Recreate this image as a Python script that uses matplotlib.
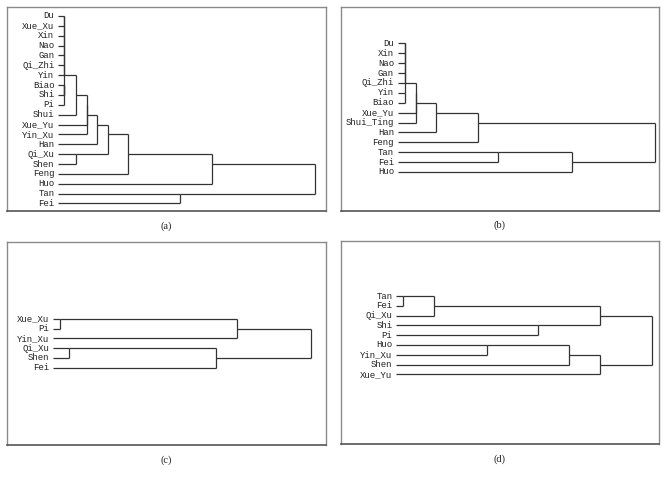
import math

import matplotlib
matplotlib.use('Agg')
import matplotlib.pyplot as plt


# leaf order (top to bottom) and merges (left, right, rescaled distance 0-25)
# an int in a merge refers to the result of that earlier merge step
leaves_a = ['Du', 'Xue_Xu', 'Xin', 'Nao', 'Gan', 'Qi_Zhi', 'Yin', 'Biao', 'Shi', 'Pi',
            'Shui', 'Xue_Yu', 'Yin_Xu', 'Han', 'Qi_Xu', 'Shen', 'Feng', 'Huo', 'Tan', 'Fei']
merges_a = [('Du', 'Xue_Xu', 0.58), (0, 'Xin', 0.58), (1, 'Nao', 0.58), (2, 'Gan', 0.58),
            (3, 'Qi_Zhi', 0.58), (4, 'Yin', 0.58), ('Biao', 'Shi', 0.58), (6, 'Pi', 0.58),
            (5, 7, 0.58), (8, 'Shui', 1.8), (9, 'Xue_Yu', 2.85), (10, 'Yin_Xu', 2.85),
            (11, 'Han', 3.8), ('Qi_Xu', 'Shen', 1.75), (12, 13, 4.9), (14, 'Feng', 6.85),
            (15, 'Huo', 14.95), ('Tan', 'Fei', 11.9), (16, 17, 25.0)]

leaves_b = ['Du', 'Xin', 'Nao', 'Gan', 'Qi_Zhi', 'Yin', 'Biao', 'Xue_Yu', 'Shui_Ting',
            'Han', 'Feng', 'Tan', 'Fei', 'Huo']
merges_b = [('Du', 'Xin', 0.71), (0, 'Nao', 0.71), (1, 'Gan', 0.71), (2, 'Qi_Zhi', 0.71),
            ('Yin', 'Biao', 0.71), (3, 4, 0.71), (5, 'Xue_Yu', 1.75), (6, 'Shui_Ting', 1.75),
            (7, 'Han', 3.72), (8, 'Feng', 7.83), ('Tan', 'Fei', 9.78), (10, 'Huo', 16.9),
            (9, 11, 25.0)]

leaves_c = ['Xue_Xu', 'Pi', 'Yin_Xu', 'Qi_Xu', 'Shen', 'Fei']
merges_c = [('Xue_Xu', 'Pi', 0.71), (0, 'Yin_Xu', 17.83), ('Qi_Xu', 'Shen', 1.61),
            (2, 'Fei', 15.84), (1, 3, 25.0)]

leaves_d = ['Tan', 'Fei', 'Qi_Xu', 'Shi', 'Pi', 'Huo', 'Yin_Xu', 'Shen', 'Xue_Yu']
merges_d = [('Tan', 'Fei', 0.65), (0, 'Qi_Xu', 3.74), ('Shi', 'Pi', 13.88), (1, 2, 19.9),
            ('Huo', 'Yin_Xu', 8.85), (4, 'Shen', 16.9), (5, 'Xue_Yu', 19.9), (3, 6, 25.0)]

panels = [
    ('(a)', leaves_a, merges_a, [7, 7, 326, 211], (-4.96, 26.07), (19.76, -0.91)),
    ('(b)', leaves_b, merges_b, [341, 7, 659, 210.5], (-5.51, 25.39), (16.89, -3.67)),
    ('(c)', leaves_c, merges_c, [7, 242, 326, 445], (-4.43, 26.48), (12.95, -7.91)),
    ('(d)', leaves_d, merges_d, [340.5, 241, 659, 444], (-5.41, 25.66), (15.12, -5.62)),
]

W, H = 667, 482
LINE = '#333333'

fig = plt.figure(figsize=(W / 100, H / 100), dpi=100)


def draw_tree(ax, leaves, merges):
    # SPSS-style text dendrogram: a cluster sits on the row halfway between its parts
    pos = {}
    for name in leaves:
        pos[name] = (0.0, leaves.index(name))
    for k, (a, b, d) in enumerate(merges):
        xa, ya = pos[a]
        xb, yb = pos[b]
        ax.plot([xa, d], [ya, ya], color=LINE, lw=0.9, solid_capstyle='butt')
        ax.plot([xb, d], [yb, yb], color=LINE, lw=0.9, solid_capstyle='butt')
        ax.plot([d, d], [ya, yb], color=LINE, lw=0.9, solid_capstyle='butt')
        pos[k] = (d, math.floor((ya + yb) / 2))
    for i, name in enumerate(leaves):
        ax.text(-0.35, i, name, ha='right', va='center', family='Liberation Mono',
                fontsize=6.5, color='#222222')


for letter, leaves, merges, box, xlim, ylim in panels:
    l, t, r, b = box
    ax = fig.add_axes([l / W, 1 - b / H, (r - l) / W, (b - t) / H])
    draw_tree(ax, leaves, merges)
    ax.set_xlim(*xlim)
    ax.set_ylim(*ylim)
    ax.set_xticks([])
    ax.set_yticks([])
    for side in ['top', 'left', 'right']:
        ax.spines[side].set_color('#8a8a8a')
        ax.spines[side].set_linewidth(1.0)
    ax.spines['bottom'].set_color('#555555')
    ax.spines['bottom'].set_linewidth(1.2)
    fig.text((l + r) / 2 / W, 1 - (b + 15) / H, letter, ha='center', va='center',
             family='Liberation Serif', fontsize=7.5, color='#222222')

plt.savefig('out.png', dpi=100)
